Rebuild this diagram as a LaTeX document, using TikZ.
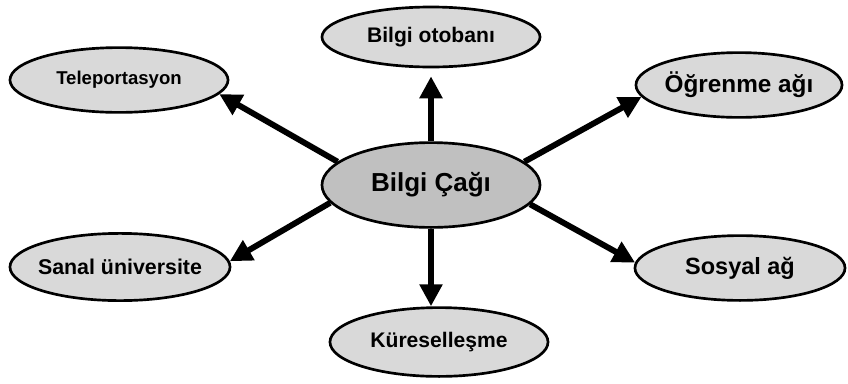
\documentclass[tikz,border=0pt]{standalone}
\usepackage{fontspec}
\setmainfont{Liberation Sans}
\usepackage{tikz}
\usetikzlibrary{arrows.meta, positioning, shapes.geometric}
\usepackage{xcolor}
\definecolor{lightfill}{HTML}{D9D9D9}
\definecolor{midfill}{HTML}{C0C0C0}

\tikzset{
  topic/.style={ellipse, draw, line width=1.9pt, fill=lightfill, inner sep=-0.15cm, font=\bfseries},
  hub/.style={topic, fill=midfill},
  spoke/.style={line width=4.2pt, -{Triangle[length=0.55cm, width=0.55cm]}},
}

\begin{document}
\begin{tikzpicture}[x=0.025cm, y=-0.025cm]
      \useasboundingbox (0,0) rectangle (848,383);

      % centre
      \node[hub, minimum width=5.45cm, minimum height=2.12cm] (cag) at (431,185) {\fontsize{18.5}{22}\selectfont Bilgi Çağı};

      % around
      \node[topic, minimum width=5.45cm, minimum height=1.5cm] (otoban) at (431,37) {\fontsize{15}{18}\selectfont Bilgi otobanı};
      \node[topic, minimum width=5.45cm, minimum height=1.62cm] (tele) at (119,80) {\fontsize{13.2}{16}\selectfont Teleportasyon};
      \node[topic, minimum width=5.15cm, minimum height=1.62cm] (ogrenme) at (739,85) {\fontsize{17.3}{20}\selectfont Öğrenme ağı};
      \node[topic, minimum width=5.5cm, minimum height=1.68cm] (sanal) at (120,267) {\fontsize{15.2}{18}\selectfont Sanal üniversite};
      \node[topic, minimum width=5.25cm, minimum height=1.62cm] (sosyal) at (740,268) {\fontsize{16.7}{20}\selectfont Sosyal ağ};
      \node[topic, minimum width=5.45cm, minimum height=1.72cm] (kuresel) at (439,342) {\fontsize{15}{18}\selectfont Küreselleşme};

      % arrows
      \draw[spoke] (cag.north) -- ([yshift=-0.2cm]otoban.south);
      \draw[spoke] (cag.south) -- (cag.south |- kuresel.north);
      \draw[spoke] (cag.166) -- (tele.-8);
      \draw[spoke] (cag.14) -- (ogrenme.187);
      \draw[spoke] (cag.190) -- (sanal.3);
      \draw[spoke] (cag.-11) -- (sosyal.177);
\end{tikzpicture}
\end{document}
